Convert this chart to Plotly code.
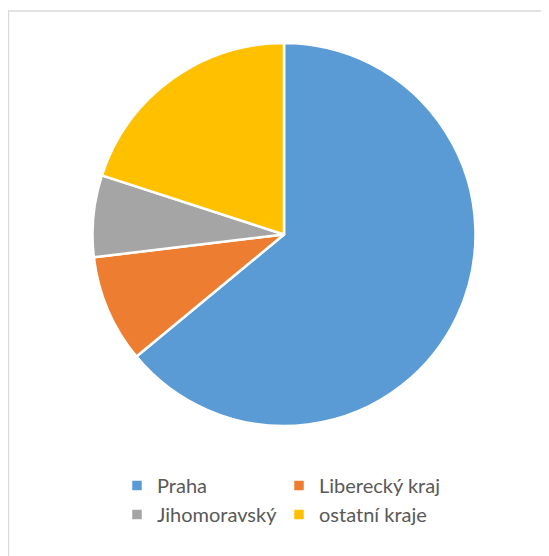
import plotly.graph_objects as go

labels = ["Praha", "Liberecký kraj", "Jihomoravský", "ostatní kraje"]
values = [64.0, 9.1, 6.9, 20.0]
colors = ["#5B9BD5", "#ED7D31", "#A5A5A5", "#FFC000"]

# page body has an 8px default margin; work in figure pixel coords
OFF = 8
W, H = 549 - OFF, 556 - OFF
ML, MR = 62, 59
PW = W - ML - MR


def px_x(x):
    return (x - OFF - ML) / PW


def px_y(y):
    return (H - (y - OFF)) / H


fig = go.Figure(go.Pie(
    labels=labels,
    values=values,
    sort=False,
    direction="clockwise",
    rotation=0,
    textinfo="none",
    marker=dict(colors=colors, line=dict(color="white", width=2.5)),
    domain=dict(x=[px_x(92.5), px_x(475.5)],
                y=[px_y(426), px_y(43)]),
    hoverinfo="label+percent",
))

fig.update_layout(
    width=W, height=H,
    margin=dict(l=ML, r=MR, t=0, b=0),
    paper_bgcolor="white",
    plot_bgcolor="white",
    font=dict(family="Lato, 'Open Sans', sans-serif", color="#595959"),
    legend=dict(
        orientation="h",
        x=px_x(117), xanchor="left",
        y=px_y(466), yanchor="top",
        entrywidth=117, entrywidthmode="pixels",
        font=dict(size=20, color="#595959", family="Lato, 'Open Sans', sans-serif"),
        bgcolor="rgba(0,0,0,0)",
    ),
    shapes=[dict(type="rect", xref="paper", yref="paper",
                 x0=px_x(8.5), x1=px_x(570),
                 y0=px_y(570), y1=px_y(11),
                 line=dict(color="#D9D9D9", width=1.3), fillcolor="rgba(0,0,0,0)",
                 layer="below")],
)

fig.write_html("out.html")
